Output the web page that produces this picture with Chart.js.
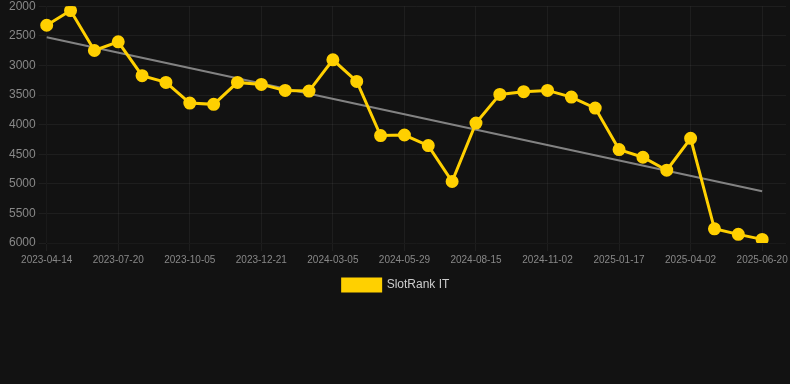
<!DOCTYPE html>
<html>
<head>
<meta charset="utf-8">
<script src="https://cdn.jsdelivr.net/npm/chart.js@4/dist/chart.umd.min.js"></script>
<style>
  html, body { margin: 0; padding: 0; background: #121212; }
  #wrap { position: relative; width: 790px; height: 301px; }
</style>
</head>
<body>
<div id="wrap"><canvas id="chart"></canvas></div>
<script>
// dates on the x axis (one per sample, only every third is shown)
const labels = [
  '2023-04-14', '2023-05-16', '2023-06-19', '2023-07-20', '2023-08-15',
  '2023-09-10', '2023-10-05', '2023-10-31', '2023-11-25', '2023-12-21',
  '2024-01-15', '2024-02-09', '2024-03-05', '2024-04-03', '2024-04-30',
  '2024-05-29', '2024-06-24', '2024-07-20', '2024-08-15', '2024-09-10',
  '2024-10-07', '2024-11-02', '2024-11-27', '2024-12-22', '2025-01-17',
  '2025-02-10', '2025-03-07', '2025-04-02', '2025-04-28', '2025-05-24',
  '2025-06-20', '2025-07-15',
]

// SlotRank IT position, lower is better (axis is reversed)
const rankIT = [
  2320, 2072, 2747, 2600, 3173, 3286, 3635, 3657, 3286, 3320,
  3421, 3433, 2904, 3270, 4185, 4175, 4354, 4961, 3973, 3489,
  3443, 3421, 3534, 3720, 4421, 4551, 4770, 4231, 5760, 5854,
  5939, null,
]

// trend line end points
const trendStart = 2522
const trendEnd = 5125

const yTicks = { min: 2000, max: 6000, step: 500 }

let trend = labels.map(() => null)
trend[0] = trendStart
trend[30] = trendEnd

const yellow = '#ffd000'

new Chart(document.getElementById('chart'), {
  type: 'line',
  data: {
    labels: labels,
    datasets: [
      {
        label: 'SlotRank IT',
        data: rankIT,
        borderColor: yellow,
        backgroundColor: yellow,
        borderWidth: 3,
        pointRadius: 5,
        pointHoverRadius: 5,
        pointBackgroundColor: yellow,
        pointBorderColor: yellow,
        tension: 0,
        order: 1,
      },
      {
        label: 'trend',
        data: trend,
        borderColor: 'rgba(150,150,150,0.85)',
        borderWidth: 2,
        pointRadius: 0,
        spanGaps: true,
        order: 2,
      },
    ],
  },
  options: {
    responsive: true,
    maintainAspectRatio: false,
    animation: false,
    layout: {
      autoPadding: false,
      padding: { left: 6, top: 0, right: 4, bottom: 0 },
    },
    scales: {
      x: {
        grid: { color: 'rgba(255,255,255,0.05)' },
        // the last (hidden) label should not eat room on the right
        afterFit: (scale) => {
          scale.paddingRight = 0
        },
        ticks: {
          color: '#888',
          font: { size: 10 },
          maxRotation: 0,
          autoSkip: true,
          autoSkipPadding: 16,
        },
      },
      y: {
        reverse: true,
        min: yTicks.min,
        max: yTicks.max,
        grid: { color: 'rgba(255,255,255,0.05)' },
        ticks: {
          stepSize: yTicks.step,
          color: '#888',
          font: { size: 12, lineHeight: 0.55 },
          callback: (v) => String(v),
        },
      },
    },
    plugins: {
      legend: {
        position: 'bottom',
        labels: {
          color: '#ccc',
          font: { size: 12 },
          boxWidth: 38,
          filter: (item) => item.text !== 'trend',
        },
      },
      tooltip: { enabled: false },
    },
  },
})
</script>
</body>
</html>
